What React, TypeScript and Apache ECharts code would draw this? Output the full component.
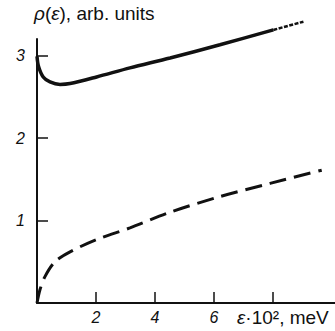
import React, { useEffect, useRef } from "react";
import * as echarts from "echarts";

// Solid curve (upper)
const solidX = [0, 0.05, 0.21, 0.44, 0.78, 1.12, 2.02, 3.15, 4.51, 6.2, 8.01];
const solidY = [2.99, 2.87, 2.74, 2.68, 2.65, 2.66, 2.74, 2.85, 2.97, 3.13, 3.31];
// Thin dashed continuation of the upper curve
const tailX = [8.01, 9.03];
const tailY = [3.31, 3.41];
// Dashed curve (lower)
const dashX = [0, 0.1, 0.27, 0.61, 1.12, 2.02, 3.15, 4.51, 6.2, 7.9, 9.65];
const dashY = [0, 0.16, 0.32, 0.5, 0.62, 0.77, 0.91, 1.1, 1.29, 1.45, 1.61];

const xTicks = [2, 4, 6, 8];
const xTickLabels = [2, 4, 6];
const yTicks = [1, 2, 3];

const yTitle = "{i|ρ}({i|ε}), arb. units";
const xTitle = "{i|ε}·10², meV";

const pairs = (xs: number[], ys: number[]) => xs.map((x, i) => [x, ys[i]]);

export default function App() {
  const ref = useRef<HTMLDivElement>(null);
  useEffect(() => {
    if (!ref.current) return;
    const chart = echarts.init(ref.current, null, { renderer: "svg" });
    const font = "Liberation Sans";
    const textStyle = {
      color: "#111",
      fontSize: 19,
      fontWeight: "normal",
      fontFamily: font,
      rich: { i: { fontStyle: "italic", fontSize: 19, fontFamily: font, color: "#111" } },
    };
    chart.setOption({
      animation: false,
      backgroundColor: "#fff",
      title: [
        { text: yTitle, left: 34, top: 4, padding: 0, textStyle },
        { text: xTitle, left: 237, top: 308, padding: 0, textStyle },
      ],
      grid: { left: 37, top: 39, width: 298, height: 264, containLabel: false },
      xAxis: {
        type: "value",
        min: 0,
        max: 10.1,
        splitLine: { show: false },
        axisLine: { lineStyle: { color: "#111", width: 2 } },
        axisTick: {
          inside: true,
          length: 11,
          customValues: xTicks,
          lineStyle: { color: "#111", width: 1.5 },
        },
        axisLabel: {
          customValues: xTickLabels,
          margin: 6,
          color: "#111",
          fontSize: 16,
          fontStyle: "italic",
          fontFamily: font,
        },
      },
      yAxis: {
        type: "value",
        min: 0,
        max: 3.2,
        splitLine: { show: false },
        axisLine: { lineStyle: { color: "#111", width: 2 } },
        axisTick: {
          inside: true,
          length: 11,
          customValues: yTicks,
          lineStyle: { color: "#111", width: 1.5 },
        },
        axisLabel: {
          customValues: yTicks,
          margin: 12,
          color: "#111",
          fontSize: 16,
          fontStyle: "italic",
          fontFamily: font,
        },
      },
      series: [
        {
          type: "line",
          data: pairs(solidX, solidY),
          smooth: 0.3,
          clip: false,
          symbol: "none",
          lineStyle: { color: "#111", width: 3.5 },
        },
        {
          type: "line",
          data: pairs(tailX, tailY),
          clip: false,
          symbol: "none",
          lineStyle: { color: "#111", width: 2.5, type: [4, 1.5] },
        },
        {
          type: "line",
          data: pairs(dashX, dashY),
          smooth: 0.3,
          symbol: "none",
          lineStyle: { color: "#111", width: 3, type: [17, 8] },
        },
      ],
    });
    return () => chart.dispose();
  }, []);
  return (
    <div
      ref={ref}
      style={{ position: "fixed", left: 0, top: 0, width: 335, height: 331 }}
    />
  );
}
